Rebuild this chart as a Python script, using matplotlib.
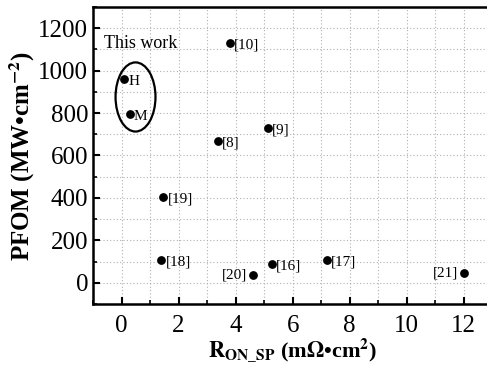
import matplotlib
matplotlib.use("Agg")
import matplotlib.pyplot as plt
from matplotlib.patches import Ellipse
from matplotlib.ticker import MultipleLocator

plt.rcParams['font.family'] = ['Liberation Serif', 'DejaVu Serif']
plt.rcParams['mathtext.fontset'] = 'stix'

labels = ['H', 'M', '[10]', '[8]', '[9]', '[19]', '[18]', '[20]', '[16]', '[17]', '[21]']
ron = [0.1, 0.28, 3.79, 3.37, 5.12, 1.47, 1.40, 4.6, 5.26, 7.19, 12.0]
pfom = [960, 795, 1130, 670, 730, 406, 109, 38, 90, 109, 47]
label_side = ['r', 'r', 'r', 'r', 'r', 'r', 'r', 'l', 'r', 'r', 'l']

fig = plt.figure(figsize=(4.87, 3.72), dpi=100)
ax = fig.add_axes([0.191, 0.183, 0.82, 0.798])

ax.scatter(ron, pfom, s=28, color='black', zorder=3)
for lab, x, y, side in zip(labels, ron, pfom, label_side):
    if side == 'r':
        ax.annotate(lab, (x, y), xytext=(3, -1.5), textcoords='offset points',
                    ha='left', va='center', fontsize=11)
    else:
        ax.annotate(lab, (x, y), xytext=(-4, 0), textcoords='offset points',
                    ha='right', va='center', fontsize=11)

ax.add_patch(Ellipse((0.49, 876), 1.4, 326, fill=False, lw=1.6, edgecolor='black', zorder=3))
ax.text(-0.6, 1129, 'This work', fontsize=13, ha='left', va='center')

ax.set_xlim(-1, 13)
ax.set_ylim(-100, 1300)
ax.xaxis.set_major_locator(MultipleLocator(2))
ax.xaxis.set_minor_locator(MultipleLocator(1))
ax.yaxis.set_major_locator(MultipleLocator(200))
ax.yaxis.set_minor_locator(MultipleLocator(100))
ax.grid(True, which='both', linestyle=(0, (1, 2)), color='#b0b0b0', linewidth=0.8)
ax.set_axisbelow(True)
ax.tick_params(which='major', direction='in', length=5, width=1.5, labelsize=18)
ax.tick_params(axis='x', which='major', pad=8)
ax.tick_params(which='minor', direction='in', length=3, width=1.2)
for sp in ax.spines.values():
    sp.set_linewidth(1.8)
ax.spines['right'].set_visible(False)

ax.set_xlabel(r'$\mathbf{R}_{\mathbf{ON\_SP}}$ (m$\mathbf{\Omega}$•cm$^{\mathbf{2}}$)', fontsize=16, fontweight='bold', labelpad=-1)
ax.set_ylabel(r'PFOM (MW•cm$^{\mathbf{-2}}$)', fontsize=18, fontweight='bold', labelpad=1)

fig.savefig('out.png', dpi=100)
